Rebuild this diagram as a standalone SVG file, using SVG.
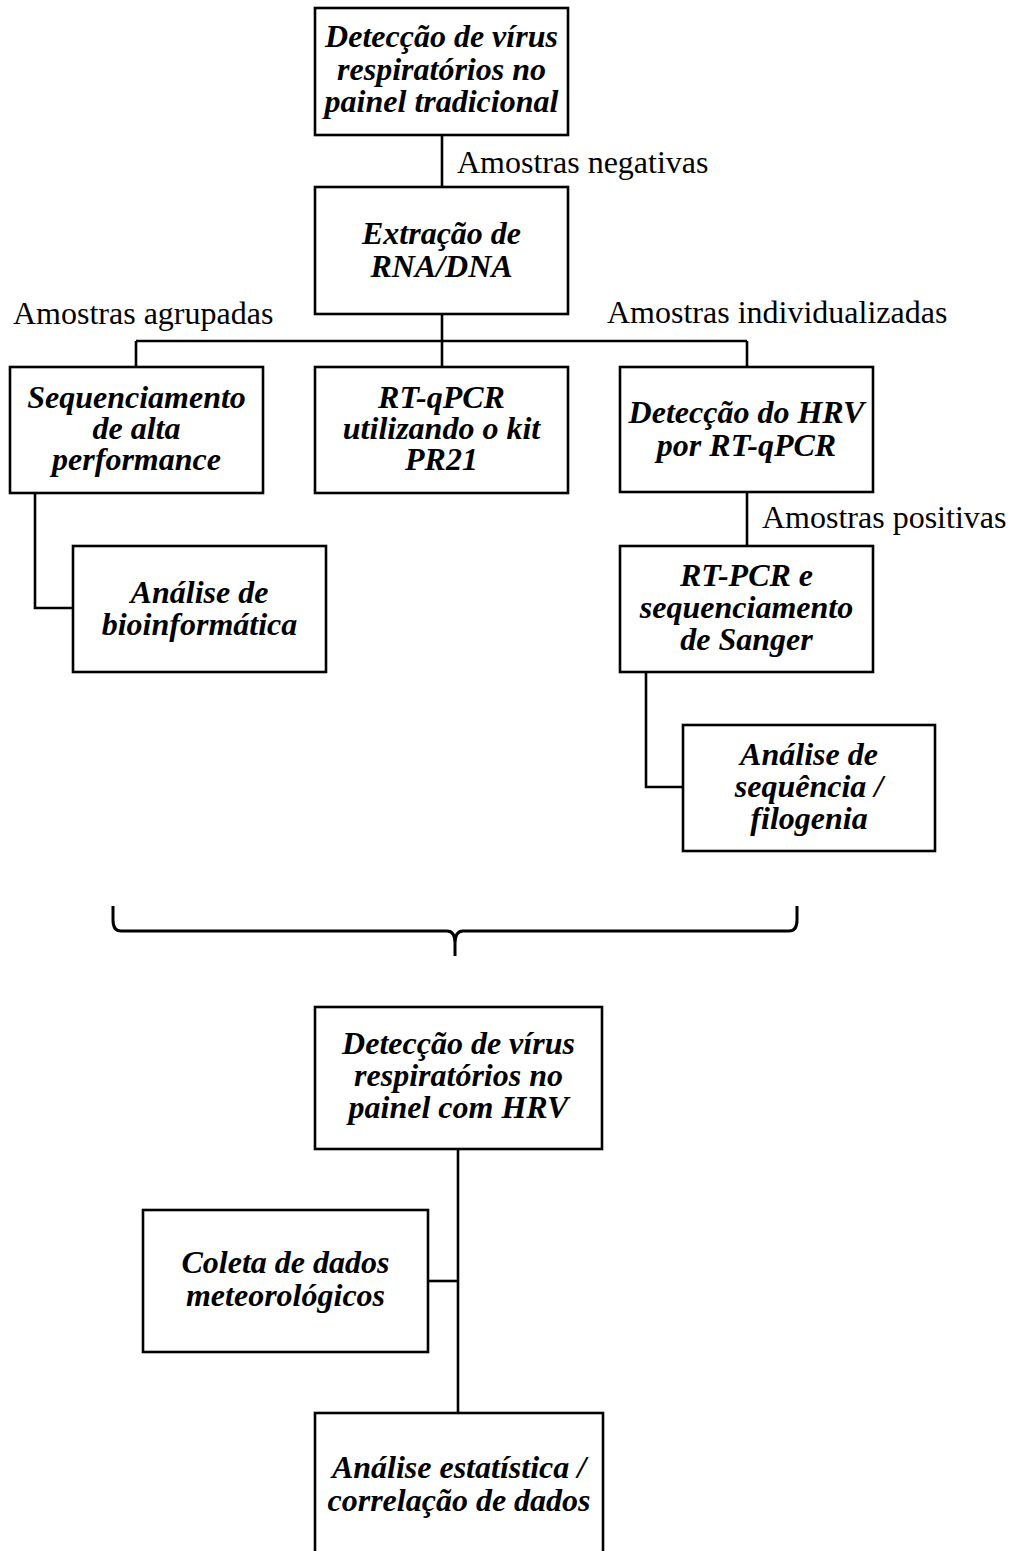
<svg xmlns="http://www.w3.org/2000/svg" width="1010" height="1551" viewBox="0 0 1010 1551">
<style>
.box{fill:#fff;stroke:#000;stroke-width:2.6}
.t{font-family:"Liberation Serif","Times New Roman",serif;font-size:32px;font-weight:bold;font-style:italic;text-anchor:middle;fill:#000}
.lbl{font-family:"Liberation Serif","Times New Roman",serif;font-size:32px;fill:#000}
.c{fill:none;stroke:#000;stroke-width:2.6}
</style>
<rect width="1010" height="1551" fill="#fff"/>
<g id="connectors">
<path class="c" d="M442,135 V187"/>
<path class="c" d="M442,314 V367"/>
<path class="c" d="M136,341 H747"/>
<path class="c" d="M136,341 V367"/>
<path class="c" d="M747,341 V367"/>
<path class="c" d="M747,492 V546"/>
<path class="c" d="M35,493 V608 H73"/>
<path class="c" d="M646,672 V787 H683"/>
<path class="c" d="M458,1149 V1413"/>
<path class="c" d="M428,1281 H458"/>
<path class="c" style="stroke-width:3" d="M113,906 L113,920 Q113,931 121,931 L447,931 Q455,931 455,943 L455,956 M455,943 Q455,931 463,931 L789,931 Q797,931 797,920 L797,906"/>
<text class="lbl" x="457" y="173">Amostras negativas</text>
<text class="lbl" x="13" y="324">Amostras agrupadas</text>
<text class="lbl" x="607" y="323">Amostras individualizadas</text>
<text class="lbl" x="762" y="528">Amostras positivas</text>
</g>
<g id="n1">
<rect class="box" x="315" y="8" width="253" height="127"/>
<text class="t" x="441.5" y="47">Detecção de vírus</text>
<text class="t" x="441.5" y="80">respiratórios no</text>
<text class="t" x="441.5" y="112">painel tradicional</text>
</g>
<g id="n2">
<rect class="box" x="315" y="187" width="253" height="127"/>
<text class="t" x="441.5" y="244">Extração de</text>
<text class="t" x="441.5" y="277">RNA/DNA</text>
</g>
<g id="n3">
<rect class="box" x="10" y="367" width="253" height="126"/>
<text class="t" x="136.5" y="408">Sequenciamento</text>
<text class="t" x="136.5" y="439">de alta</text>
<text class="t" x="136.5" y="470">performance</text>
</g>
<g id="n4">
<rect class="box" x="315" y="367" width="253" height="126"/>
<text class="t" x="441.5" y="408">RT-qPCR</text>
<text class="t" x="441.5" y="439">utilizando o kit</text>
<text class="t" x="441.5" y="470">PR21</text>
</g>
<g id="n5">
<rect class="box" x="620" y="367" width="253" height="125"/>
<text class="t" x="746.5" y="423">Detecção do HRV</text>
<text class="t" x="746.5" y="456">por RT-qPCR</text>
</g>
<g id="n6">
<rect class="box" x="73" y="546" width="253" height="126"/>
<text class="t" x="199.5" y="603">Análise de</text>
<text class="t" x="199.5" y="635">bioinformática</text>
</g>
<g id="n7">
<rect class="box" x="620" y="546" width="253" height="126"/>
<text class="t" x="746.5" y="586">RT-PCR e</text>
<text class="t" x="746.5" y="618">sequenciamento</text>
<text class="t" x="746.5" y="650">de Sanger</text>
</g>
<g id="n8">
<rect class="box" x="683" y="725" width="252" height="126"/>
<text class="t" x="809" y="765">Análise de</text>
<text class="t" x="809" y="797">sequência /</text>
<text class="t" x="809" y="829">filogenia</text>
</g>
<g id="n9">
<rect class="box" x="315" y="1007" width="287" height="142"/>
<text class="t" x="458.5" y="1054">Detecção de vírus</text>
<text class="t" x="458.5" y="1086">respiratórios no</text>
<text class="t" x="458.5" y="1118">painel com HRV</text>
</g>
<g id="n10">
<rect class="box" x="143" y="1210" width="285" height="142"/>
<text class="t" x="285.5" y="1273">Coleta de dados</text>
<text class="t" x="285.5" y="1306">meteorológicos</text>
</g>
<g id="n11">
<rect class="box" x="315" y="1413" width="288" height="160"/>
<text class="t" x="459" y="1478">Análise estatística /</text>
<text class="t" x="459" y="1511">correlação de dados</text>
</g>
</svg>
